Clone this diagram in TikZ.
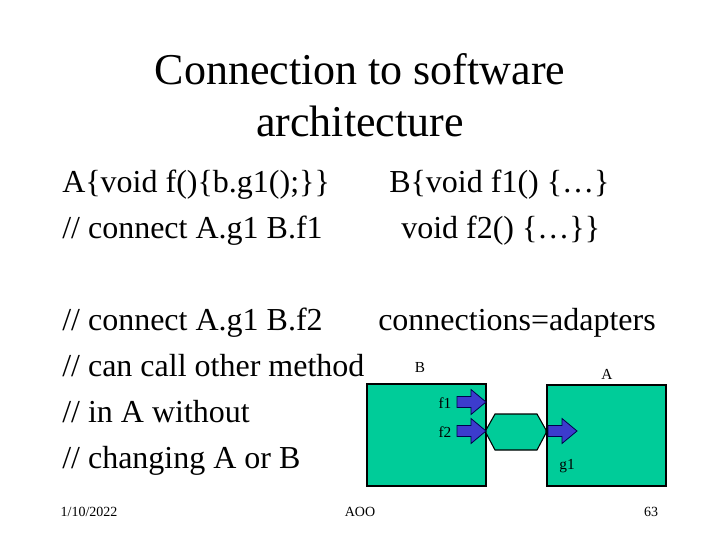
\documentclass[tikz,border=0pt]{standalone}
\usepackage{fontspec}
\setmainfont{Liberation Serif}
\definecolor{boxgreen}{RGB}{0,204,153}
\definecolor{arrowblue}{RGB}{60,60,205}
\begin{document}
\begin{tikzpicture}[x=0.75pt,y=-0.75pt,
  title/.style={font=\fontsize{33}{38}\selectfont,anchor=base,inner sep=0pt},
  body/.style={font=\fontsize{24}{28}\selectfont,anchor=base west,inner sep=0pt},
  foot/.style={font=\fontsize{10.5}{12}\selectfont,anchor=base,inner sep=0pt},
  lbl/.style={font=\fontsize{11.5}{13}\selectfont,anchor=base,inner sep=0pt},
  compbox/.style={draw=black,line width=0.8pt,fill=boxgreen},
  arrowfill/.style={draw=black!70!blue,line width=0.6pt,fill=arrowblue,line join=miter},
  fatarrow/.pic={\draw[arrowfill] (-29,-5.5) -- (-15,-5.5) -- (-15,-12.5) -- (0,0) -- (-15,12.5) -- (-15,5.5) -- (-29,5.5) -- cycle;}
]
\useasboundingbox (0,0) rectangle (720,540);
\fill[white] (0,0) rectangle (720,540);
% title
\node[title] (t1) at (360,84) {Connection to software};
\node[title] (t2) at (360,136) {architecture};
% body text
\node[body] (l1) at (62,192) {A\{void f()\{b.g1();\}\}};
\node[body] (r1) at (389,192) {B\{void f1() \{…\}};
\node[body] (l2) at (62,238) {// connect A.g1 B.f1};
\node[body] (r2) at (401,238) {void f2() \{…\}\}};
\node[body] (l3) at (62,330) {// connect A.g1 B.f2};
\node[body] (r3) at (378,330) {connections=adapters};
\node[body] (l4) at (62,376) {// can call other method};
\node[body] (l5) at (62,422) {// in A without};
\node[body] (l6) at (62,468) {// changing A or B};
% diagram
\draw[compbox] (367,384) rectangle (486,486);
\draw[compbox] (547,385) rectangle (666,486);
\coordinate (oct1) at (486,430);
\draw[compbox] (495,414) -- (537,414) -- (546,430) -- (546,433) -- (537,450) -- (495,450) -- (486,433) -- (oct1) -- cycle;
\pic at (486,402) {fatarrow};
\pic at (486,431) {fatarrow};
\pic at (577,431) {fatarrow};
\node[lbl] (lb) at (420,372) {B};
\node[lbl] (la) at (607,379) {A};
\node[lbl] (lf1) at (445,408) {f1};
\node[lbl] (lf2) at (445,437) {f2};
\node[lbl] (lg1) at (567,469) {g1};
% footer
\node[foot] (f1) at (89,516) {1/10/2022};
\node[foot] (f2) at (360,516) {AOO};
\node[foot] (f3) at (651,516) {63};
\end{tikzpicture}
\end{document}
